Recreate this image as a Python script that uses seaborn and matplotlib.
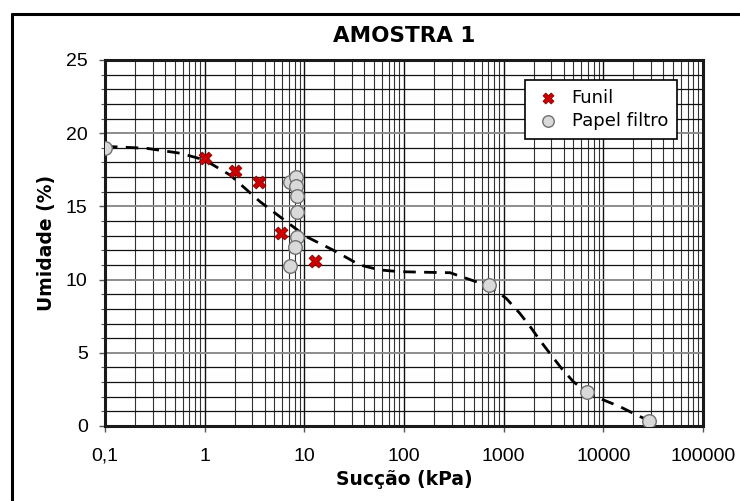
import numpy as np
import pandas as pd
import matplotlib
matplotlib.use("Agg")
import matplotlib.pyplot as plt
import seaborn as sns
from matplotlib.lines import Line2D
from matplotlib.ticker import FixedLocator, LogLocator, MultipleLocator, NullFormatter

# measured points
funil_x = [1.0, 2.0, 3.5, 5.9, 12.8]
funil_y = [18.3, 17.4, 16.7, 13.2, 11.3]

papel_x = [0.1, 7.1, 8.2, 8.3, 8.4, 8.5, 8.4, 8.1, 7.2, 710, 6900, 28800]
papel_y = [19.0, 16.7, 17.0, 16.4, 15.7, 14.6, 12.9, 12.2, 10.95, 9.6, 2.3, 0.36]

# fitted curve
curve_x = [0.1, 0.26, 0.57, 1.0, 1.8, 3.6, 6.6, 10.5, 19.4, 36, 57, 91,
           170, 290, 420, 710, 1060, 1450, 1900, 2300, 2900, 3800, 5000,
           6900, 10000, 14700, 21600, 28800]
curve_y = [19.1, 18.97, 18.63, 18.17, 17.14, 15.32, 13.96, 12.93, 12.02, 11.0,
           10.66, 10.54, 10.5, 10.47, 10.09, 9.56, 8.72, 7.7, 6.67, 5.87,
           4.97, 3.94, 3.03, 2.27, 1.78, 1.32, 0.75, 0.36]

xticks = [0.1, 1, 10, 100, 1000, 10000, 100000]
xticklabels = ["0,1", "1", "10", "100", "1000", "10000", "100000"]
yticks = [0, 5, 10, 15, 20, 25]

sns.set_theme(style="white")
plt.rcParams["font.family"] = ["Liberation Sans", "DejaVu Sans"]
plt.rcParams["text.color"] = "black"
plt.rcParams["axes.labelcolor"] = "black"
plt.rcParams["xtick.color"] = "black"
plt.rcParams["ytick.color"] = "black"

fig = plt.figure(figsize=(7.4, 5.01), dpi=100)
ax = fig.add_axes([105 / 740, 1 - 426 / 501, (703 - 105) / 740, (426 - 60) / 501])

ax.set_xscale("log")
ax.set_xlim(0.1, 100000)
ax.set_ylim(0, 25)

ax.xaxis.set_major_locator(FixedLocator(xticks))
ax.set_xticklabels(xticklabels)
ax.xaxis.set_minor_locator(LogLocator(base=10, subs=np.arange(2, 10)))
ax.xaxis.set_minor_formatter(NullFormatter())
ax.set_yticks(yticks)
ax.yaxis.set_minor_locator(MultipleLocator(1))

ax.grid(which="major", axis="y", color="#8c8c8c", lw=1.4)
ax.grid(which="minor", axis="y", color="#111111", lw=0.9)
ax.grid(which="major", axis="x", color="#111111", lw=1.0)
ax.grid(which="minor", axis="x", color="#333333", lw=0.8)
ax.set_axisbelow(True)

ax.tick_params(axis="both", which="major", direction="out", length=4.5, width=1,
               color="#555555", labelsize=14, bottom=True, left=True)
ax.tick_params(axis="x", which="major", pad=11)
ax.tick_params(axis="y", which="major", pad=8)
ax.tick_params(axis="y", which="minor", direction="out", length=3, width=0.8,
               color="#555555", left=True)
ax.tick_params(axis="x", which="minor", length=0)
for sp in ax.spines.values():
    sp.set_color("#1a1a1a")
    sp.set_linewidth(2.2)

curve = pd.DataFrame({"x": curve_x, "y": curve_y})
sns.lineplot(data=curve, x="x", y="y", ax=ax, sort=False, estimator=None,
             color="black", lw=2.0, dashes=False, zorder=3)
ax.lines[-1].set_dashes((4.5, 3))

df_f = pd.DataFrame({"x": funil_x, "y": funil_y})
df_p = pd.DataFrame({"x": papel_x, "y": papel_y})
sns.scatterplot(data=df_f, x="x", y="y", ax=ax, marker="X", s=85,
                color="#cc0000", edgecolor="#880000", linewidth=0.6,
                label="Funil", zorder=5)
sns.scatterplot(data=df_p, x="x", y="y", ax=ax, marker="o", s=95,
                color="#d9d9d9", edgecolor="#707070", linewidth=1.0,
                label="Papel filtro", zorder=4)

label_font = ["DejaVu Sans"]
ax.set_xlabel("Sucção (kPa)", family=label_font, fontweight="bold",
              fontsize=13.5, labelpad=4)
ax.set_ylabel("Umidade (%)", family=label_font, fontweight="bold",
              fontsize=13.5, labelpad=7)
ax.set_title("AMOSTRA 1", family=label_font, fontweight="bold",
             fontsize=15.5, pad=13)

leg = ax.legend(loc="upper right", bbox_to_anchor=(0.9565, 0.945), frameon=True,
                fancybox=False, edgecolor="black", framealpha=1,
                prop={"family": label_font, "size": 13}, borderaxespad=0,
                handletextpad=0.5, handlelength=1.6, borderpad=0.5,
                labelspacing=0.25, markerscale=0.85)
leg.get_frame().set_linewidth(1.2)

# outer chart-area frame (only top and left edges are visible)
top_y = 1 - 14 / 501
left_x = 12 / 740
fig.add_artist(Line2D([left_x, 1.05], [top_y, top_y], transform=fig.transFigure,
                      color="black", lw=2.2, clip_on=False))
fig.add_artist(Line2D([left_x, left_x], [top_y, -0.05], transform=fig.transFigure,
                      color="black", lw=2.2, clip_on=False))

fig.savefig("out.png", dpi=100)
